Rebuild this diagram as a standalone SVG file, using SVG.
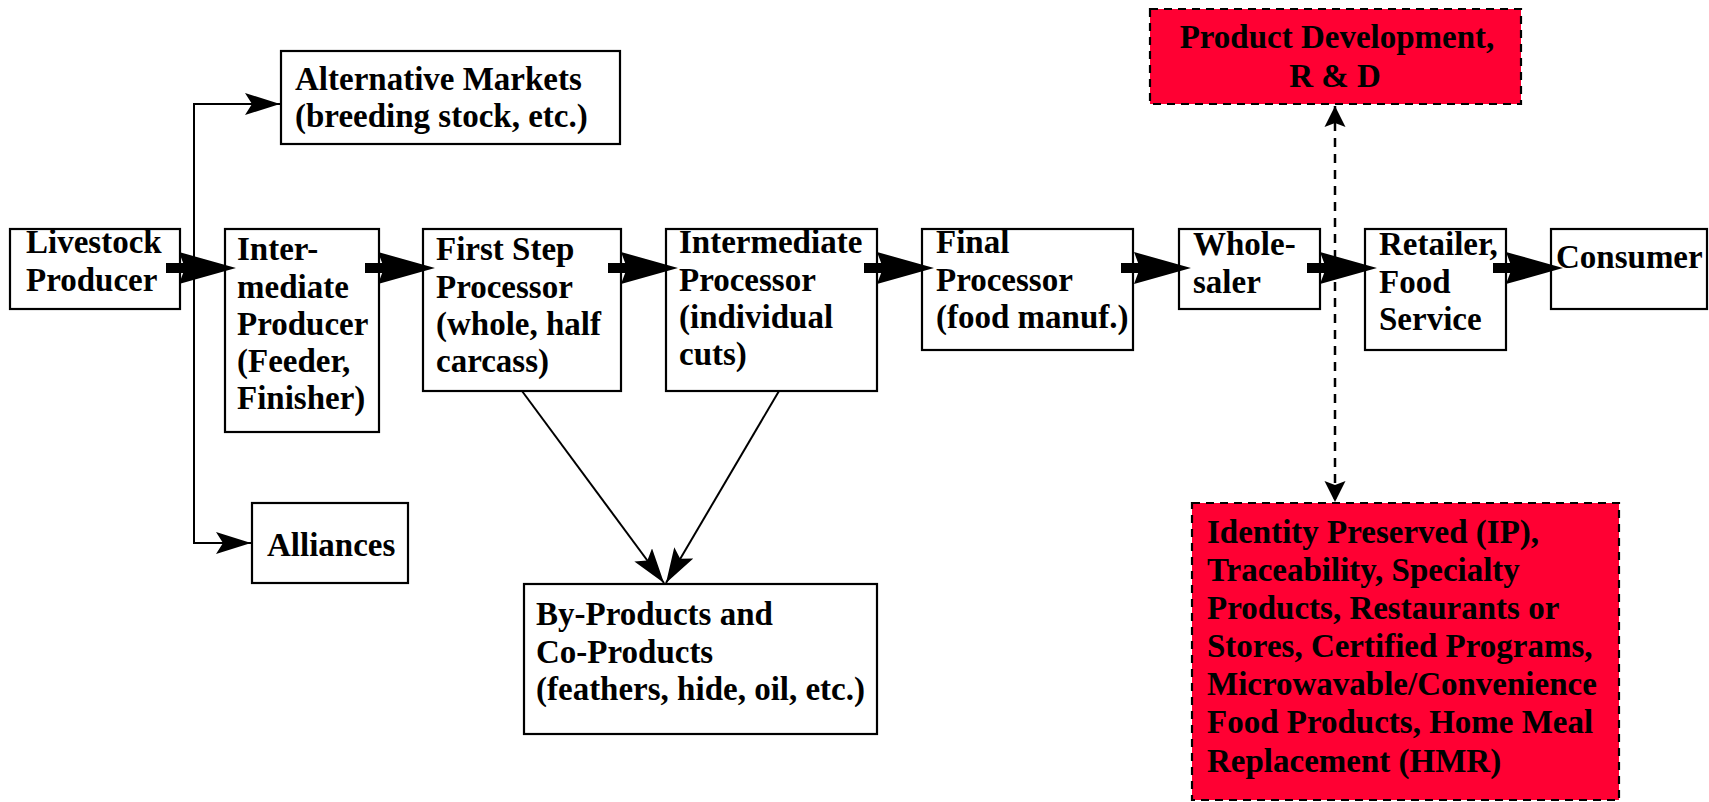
<svg xmlns="http://www.w3.org/2000/svg" width="1709" height="802" viewBox="0 0 1709 802">
<defs>
<style>
.box{fill:#fff;stroke:#000;stroke-width:2.2}
.red{fill:#FF0033;stroke:#000;stroke-width:2.2;stroke-dasharray:8 6}
.t{font-family:"Liberation Serif","Times New Roman",serif;font-weight:bold;font-size:33px;fill:#000}
.thin{fill:none;stroke:#000;stroke-width:2}
.dash{fill:none;stroke:#000;stroke-width:2.5;stroke-dasharray:9 7}
</style>
<marker id="ah" markerUnits="userSpaceOnUse" markerWidth="36" markerHeight="22" refX="35" refY="11" orient="auto" viewBox="0 0 36 22">
<path d="M0,0 L35,11 L0,22 L7,11 z" fill="#000"/>
</marker>
<marker id="ahd" markerUnits="userSpaceOnUse" markerWidth="22" markerHeight="22" refX="21" refY="11" orient="auto-start-reverse" viewBox="0 0 22 22">
<path d="M0,0.5 L21,11 L0,21.5 L4,11 z" fill="#000"/>
</marker>
<g id="thick">
<rect x="-70" y="-5" width="22" height="10" fill="#000"/>
<path d="M0,0 L-57,-16 L-51,0 L-57,16 z" fill="#000"/>
</g>
</defs>
<rect width="1709" height="802" fill="#fff"/>
<g id="livestock"><rect class="box" x="10" y="229" width="170" height="80"/><text class="t" x="26" y="253">Livestock</text><text class="t" x="26" y="291">Producer</text></g>
<g id="intermediate-producer"><rect class="box" x="225" y="229" width="154" height="203"/><text class="t" x="237" y="260">Inter-</text><text class="t" x="237" y="297.5">mediate</text><text class="t" x="237" y="335">Producer</text><text class="t" x="237" y="372">(Feeder,</text><text class="t" x="237" y="409">Finisher)</text></g>
<g id="first-step"><rect class="box" x="423" y="229" width="198" height="162"/><text class="t" x="436" y="260">First Step</text><text class="t" x="436" y="297.5">Processor</text><text class="t" x="436" y="335">(whole, half</text><text class="t" x="436" y="372">carcass)</text></g>
<g id="intermediate-processor"><rect class="box" x="666" y="229" width="211" height="162"/><text class="t" x="679" y="253">Intermediate</text><text class="t" x="679" y="291">Processor</text><text class="t" x="679" y="328">(individual</text><text class="t" x="679" y="365">cuts)</text></g>
<g id="final-processor"><rect class="box" x="922" y="229" width="211" height="121"/><text class="t" x="936" y="253">Final</text><text class="t" x="936" y="291">Processor</text><text class="t" x="936" y="328">(food manuf.)</text></g>
<g id="wholesaler"><rect class="box" x="1179" y="229" width="141" height="80"/><text class="t" x="1193" y="255">Whole-</text><text class="t" x="1193" y="293">saler</text></g>
<g id="retailer"><rect class="box" x="1365" y="229" width="141" height="121"/><text class="t" x="1379" y="255">Retailer,</text><text class="t" x="1379" y="293">Food</text><text class="t" x="1379" y="330">Service</text></g>
<g id="consumer"><rect class="box" x="1551" y="229" width="156" height="80"/><text class="t" x="1556" y="268">Consumer</text></g>
<g id="alternative-markets"><rect class="box" x="281" y="51" width="339" height="93"/><text class="t" x="295" y="90">Alternative Markets</text><text class="t" x="295" y="127">(breeding stock, etc.)</text></g>
<g id="alliances"><rect class="box" x="252" y="503" width="156" height="80"/><text class="t" x="267" y="556">Alliances</text></g>
<g id="by-products"><rect class="box" x="524" y="584" width="353" height="150"/><text class="t" x="536" y="625">By-Products and</text><text class="t" x="536" y="663">Co-Products</text><text class="t" x="536" y="700">(feathers, hide, oil, etc.)</text></g>
<g id="product-development"><rect class="red" x="1150" y="9" width="371" height="95"/><text class="t" x="1337" y="48" text-anchor="middle">Product Development,</text><text class="t" x="1335" y="87" text-anchor="middle">R &amp; D</text></g>
<g id="identity-preserved"><rect class="red" x="1192" y="503" width="427" height="297"/><text class="t" x="1207" y="543">Identity Preserved (IP),</text><text class="t" x="1207" y="581">Traceability, Specialty</text><text class="t" x="1207" y="618.5">Products, Restaurants or</text><text class="t" x="1207" y="657">Stores, Certified Programs,</text><text class="t" x="1207" y="695">Microwavable/Convenience</text><text class="t" x="1207" y="733">Food Products, Home Meal</text><text class="t" x="1207" y="772">Replacement (HMR)</text></g>
<g id="connectors">
<path class="thin" d="M194,268 V104 H280" marker-end="url(#ah)"/>
<path class="thin" d="M194,268 V543 H251" marker-end="url(#ah)"/>
<use href="#thick" x="236" y="268"/>
<use href="#thick" x="435" y="268"/>
<use href="#thick" x="678" y="268"/>
<use href="#thick" x="934" y="268"/>
<use href="#thick" x="1191" y="268"/>
<use href="#thick" x="1377" y="268"/>
<use href="#thick" x="1563" y="268"/>
<path class="thin" d="M522,391 L664,583" marker-end="url(#ah)"/>
<path class="thin" d="M779,391 L666,583" marker-end="url(#ah)"/>
<path class="dash" d="M1335,106 V502" marker-start="url(#ahd)" marker-end="url(#ahd)"/>
</g>
</svg>
